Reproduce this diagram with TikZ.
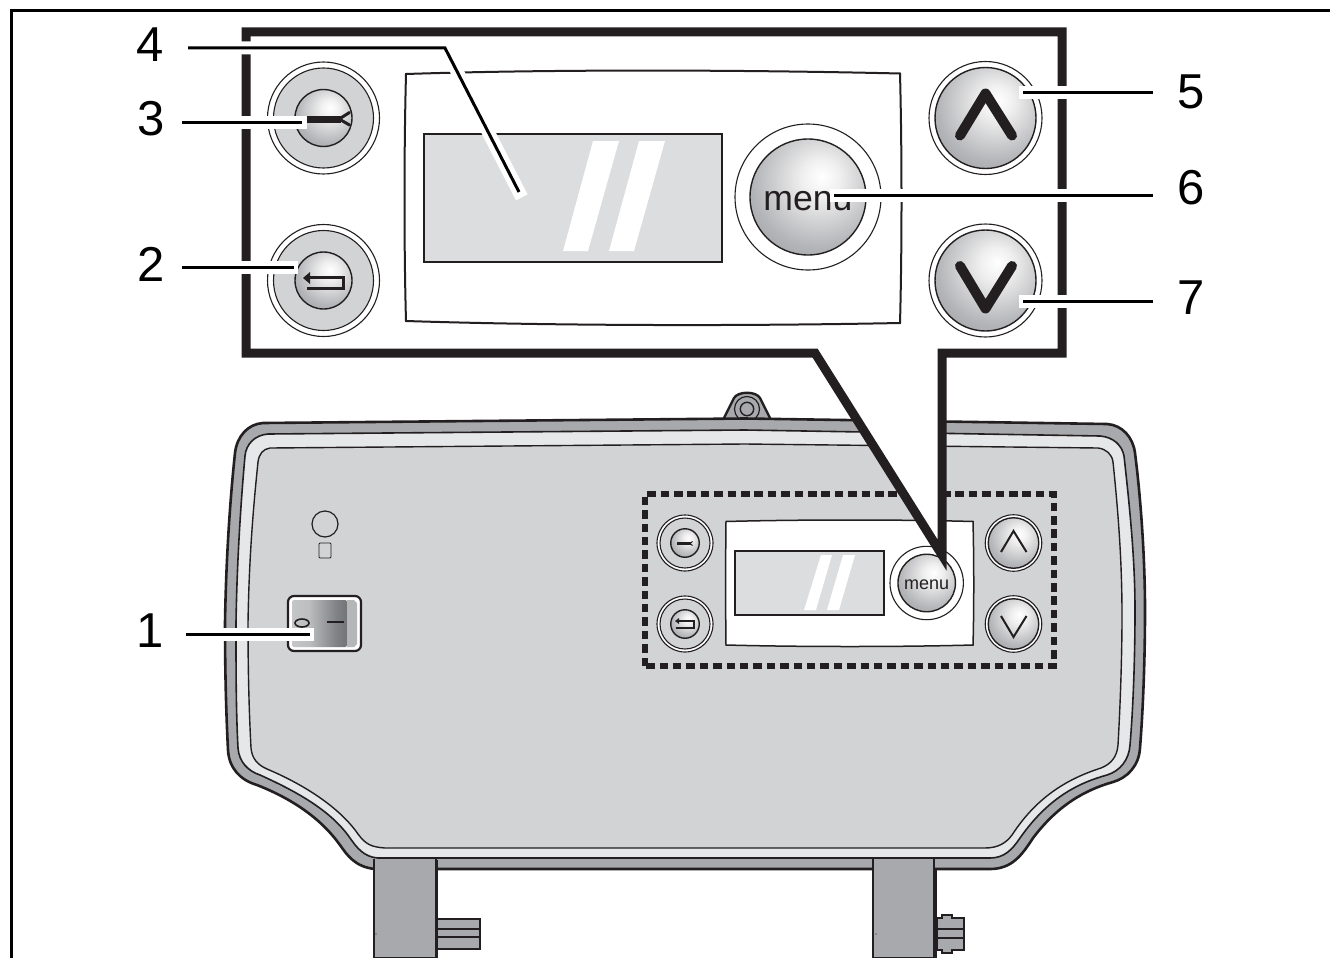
\documentclass[tikz,border=0pt]{standalone}
\usepackage{fontspec}
\setmainfont{Liberation Sans}
\usetikzlibrary{calc}
\definecolor{ink}{HTML}{231F20}
\definecolor{band}{HTML}{A7A9AC}
\definecolor{lite}{HTML}{E6E7E8}
\definecolor{panel}{HTML}{D1D3D4}
\definecolor{lcd}{HTML}{DCDDDE}
\definecolor{knobedge}{HTML}{808285}
\definecolor{knobmid}{HTML}{B4B5B8}
\pgfdeclareradialshading{knobshade}{\pgfpoint{6bp}{9bp}}{color(0bp)=(white); color(8bp)=(white!94!black); color(28bp)=(knobmid); color(55bp)=(knobedge); color(100bp)=(knobedge)}
\pgfdeclarehorizontalshading{switchshade}{100bp}{color(0bp)=(panel); color(40bp)=(panel!90!black); color(65bp)=(knobedge); color(100bp)=(black!68)}
\tikzset{
  num/.style={font=\fontsize{49}{49}\selectfont,text=black,inner sep=0pt,outer sep=0pt,minimum height=40pt},
  halo/.style={line width=13pt,draw=white},
  leader/.style={line width=3pt,draw=black},
  frameline/.style={line width=9pt,draw=ink,miter limit=10},
  ring/.style={draw=ink,line width=1.1pt},
  face/.style={circle,draw=ink,line width=1.4pt,inner sep=0pt,shading=knobshade},
  bigicon/.style={draw=ink,line width=10pt,line cap=round,line join=round},
  smallicon/.style={draw=ink,line width=2pt,line cap=round,line join=miter},
  panelline/.style={draw=ink,line width=2pt},
  legline/.style={draw=ink,line width=2.4pt,fill=band},
}
\newcommand{\btngray}[4]{% name, x,y, scale radii
  \draw[ring,fill=white] (#2,#3) circle[radius=#4*56];
  \draw[ring,fill=panel] (#2,#3) circle[radius=#4*50];
  \node[face,minimum size=#4*57pt] (#1) at (#2,#3) {};
}
\newcommand{\btnknob}[4]{%
  \draw[ring,fill=white] (#2,#3) circle[radius=#4*56.5];
  \node[face,minimum size=#4*101pt] (#1) at (#2,#3) {};
}
\begin{document}
\begin{tikzpicture}[x=1pt,y=-1pt]
\useasboundingbox (0,0) rectangle (1330,958);
\clip (0,0) rectangle (1330,958);
\fill[white] (0,0) rectangle (1330,958);
% outer frame
\draw[line width=3pt,black] (11,958) -- (11,10.5) -- (1330,10.5);

% knob at the top of the case
\draw[fill=band,draw=ink,line width=2.4pt,line join=round] (723,420) -- (734,398) .. controls (738,391) and (756,391) .. (760,398) -- (771,420);
\draw[ink,line width=1.2pt] (747,409) circle[radius=12.5];
\draw[ink,line width=1.4pt] (747,409) circle[radius=6.7];

% case: outer band, light band, panel
\path[fill=band,draw=ink,line width=2.6pt,line join=round]
  (263,423) -- (745,418.5) -- (1107,424) .. controls (1122,425) and (1133,437) .. (1135,453)
  .. controls (1141,500) and (1145,560) .. (1145,610) .. controls (1145,660) and (1143,710) .. (1140,748)
  .. controls (1139,766) and (1127,778) .. (1113,782) .. controls (1085,790) and (1058,805) .. (1033,838)
  .. controls (1022,855) and (1012,869) .. (990,869) -- (375,869)
  .. controls (355,867) and (347,855) .. (340,845) .. controls (322,820) and (295,800) .. (257,785)
  .. controls (240,780) and (229,768) .. (228,750) .. controls (226,710) and (225,670) .. (225,623)
  .. controls (226,560) and (230,500) .. (235,453) .. controls (237,436) and (248,424) .. (263,423) -- cycle;
\path[fill=lite,draw=ink,line width=1.6pt,line join=round]
  (268,434) -- (745,430) -- (1100,436) .. controls (1113,437) and (1122,445) .. (1124,456)
  .. controls (1130,510) and (1135,560) .. (1135,610) .. controls (1135,660) and (1133,710) .. (1130,745)
  .. controls (1129,760) and (1120,771) .. (1107,775) .. controls (1078,783) and (1048,798) .. (1020,838)
  .. controls (1012,850) and (1004,858) .. (990,858) -- (378,858)
  .. controls (364,857) and (357,848) .. (350,838) .. controls (332,812) and (300,793) .. (260,775)
  .. controls (248,771) and (239,762) .. (238,748) .. controls (236,710) and (236,670) .. (236,623)
  .. controls (237,560) and (241,500) .. (245,456) .. controls (246,444) and (255,435) .. (268,434) -- cycle;
\path[fill=panel,draw=ink,line width=1.4pt,line join=round]
  (270,448) -- (745,444) -- (1098,448) .. controls (1106,449) and (1112,454) .. (1113,462)
  .. controls (1118,510) and (1122,560) .. (1122,615) .. controls (1122,660) and (1120,710) .. (1118,745)
  .. controls (1117,757) and (1111,764) .. (1101,768) .. controls (1070,778) and (1038,795) .. (1012,835)
  .. controls (1006,843) and (998,848) .. (985,848) -- (385,848)
  .. controls (372,847) and (366,845) .. (358,834) .. controls (340,808) and (305,785) .. (267,769)
  .. controls (258,765) and (252,759) .. (251,748) .. controls (249,710) and (248,670) .. (248,623)
  .. controls (249,560) and (253,510) .. (258,462) .. controls (259,454) and (263,449) .. (270,448) -- cycle;

% legs
\path[legline] (374,859) -- (374,958) -- (436,958) -- (436,859);
\draw[ink,line width=2.2pt] (437,860) -- (437,958);
\path[fill=band,draw=ink,line width=2pt] (438,919) -- (480,919) -- (480,949) -- (438,949);
\draw[ink,line width=2pt] (438,929) -- (480,929) (438,937) -- (480,937);
\path[legline] (873,859) -- (873,958) -- (934,958) -- (934,859);
\draw[ink,line width=1.6pt] (936,870) -- (936,958);
\path[fill=band,draw=ink,line width=2pt] (942,918) -- (942,915) -- (952,915) -- (952,918) -- (964,918) -- (964,950) -- (952,950) -- (952,953) -- (942,953) -- (942,950) -- (937,950) -- (937,918) -- cycle;
\draw[ink,line width=2pt] (937,929) -- (964,929) (937,938) -- (964,938);
\fill[ink] (376,934) circle[radius=.6] (876,934) circle[radius=.6];

% indicator and switch
\draw[ink,line width=1.2pt] (325,524) circle[radius=13];
\draw[ink,line width=.9pt,rounded corners=1pt] (319,543) rectangle (331,558);
\draw[fill=white,draw=ink,line width=2.2pt,rounded corners=6pt] (288,596) rectangle (361,651);
\path[shading=switchshade,rounded corners=2pt] (292,600) -- (347,600) -- (347,647) -- (292,647) -- cycle;
\fill[band!85!white] (347,600) -- (354,600) -- (357,603) -- (357,644) -- (354,647) -- (347,647) -- cycle;
\draw[ink,line width=1.6pt] (302,623) ellipse[x radius=7,y radius=4];
\draw[ink,line width=2.8pt] (327,622) -- (344,622);

% small keypad
\draw[ink,line width=5.5pt,dash pattern=on 8.5pt off 4.9pt] (645,666) -- (645,494) -- (1054,494) -- (1054,666) -- cycle;
\btngray{sk3}{685}{543}{.5}
\btngray{sk2}{685}{624}{.5}
\btnknob{sk5}{1013.5}{543}{.5}
\btnknob{sk7}{1013.5}{624}{.5}
\draw[ink,line width=2.8pt] (677,543.5) -- (691,543.5);
\draw[ink,line width=1pt] (690,543.5) -- (692.5,541.5) (690,543.5) -- (692.5,545.5);
\draw[ink,line width=1.3pt] (678,621) -- (694,621) -- (694,628) -- (676,628);
\fill[ink] (675,621) -- (679,618) -- (679,624) -- cycle;
\draw[smallicon,line cap=butt,line join=miter] (1001,552) -- (1013.5,531) -- (1026.5,552);
\draw[smallicon,line cap=butt,line join=miter] (1001,616) -- (1013.5,637) -- (1026.5,616);
\path[fill=white,panelline,line width=1.5pt] (726,521.5) .. controls (800,519.5) and (900,519.5) .. (973,521.5) .. controls (974,560) and (974,610) .. (973,645) .. controls (900,647) and (800,647) .. (726,645) .. controls (725.5,610) and (725.5,560) .. (726,521.5) -- cycle;
\path[fill=lcd,panelline,line width=1.5pt] (735,551) rectangle (884,615);
\fill[white] (821,555) -- (832,555) -- (816,610) -- (804,610) -- cycle;
\fill[white] (843,555) -- (855,555) -- (839,610) -- (827,610) -- cycle;
\draw[ring,fill=white] (926.7,583) circle[radius=36.7];
\node[face,minimum size=57.5pt] (smenu) at (926.7,583) {};
\node[anchor=base,inner sep=0pt,text=ink,font=\fontsize{18}{18}\selectfont] (smenutxt) at (926.7,589) {menu};

% callout frame with its wedge down to the small menu key
\path[fill=white,frameline,line join=miter] (246,32) -- (1062,32) -- (1062,353) -- (942,353) -- (942,555) -- (815,353) -- (246,353) -- cycle;

% large keypad
\btngray{k3}{323.5}{118}{1}
\btngray{k2}{323.5}{280.5}{1}
\btnknob{k5}{985.5}{118}{1}
\btnknob{k7}{985.5}{280.5}{1}
\draw[ink,line width=7pt] (303,119) -- (341,119);
\draw[ink,line width=3pt,line cap=round] (340,118.5) -- (349.5,112.5) (340,119.5) -- (349.5,125);
\draw[ink,line width=3pt] (310,277) -- (343.5,277) -- (343.5,288) -- (307,288);
\fill[ink] (303,278) -- (310,272) -- (310,284) -- cycle;
\draw[bigicon] (960,135.5) -- (985.5,93.5) -- (1012,135.5);
\draw[bigicon] (960,266) -- (985.5,308.5) -- (1012,266);
\path[fill=white,panelline] (406,74) .. controls (560,69) and (750,70) .. (900,73.5) .. controls (902,150) and (902,250) .. (900,323) .. controls (750,326) and (560,326) .. (406,321) .. controls (404,250) and (404,150) .. (406,74) -- cycle;
\path[fill=lcd,panelline,line width=2.4pt] (424,134) rectangle (722,262);
\fill[white] (593,141) -- (619,141) -- (588,251) -- (563,251) -- cycle;
\fill[white] (639,141) -- (665,141) -- (634,251) -- (609,251) -- cycle;
\draw[ring,fill=white] (808,197) circle[radius=73];
\node[face,minimum size=116pt] (kmenu) at (808,197) {};
\node[anchor=base,inner sep=0pt,text=ink,font=\fontsize{35.6}{36}\selectfont] (kmenutxt) at (808,210) {menu};

% number labels
\node[num,minimum width=76pt] (n4) at (150,45) {4};
\node[num,minimum width=62pt] (n3) at (151,119) {3};
\node[num,minimum width=62pt] (n2) at (151,264) {2};
\node[num,minimum width=72pt] (n1) at (150,631) {1};
\node[num,minimum width=76pt] (n5) at (1191,92) {5};
\node[num,minimum width=76pt] (n6) at (1191,188) {6};
\node[num,minimum width=76pt] (n7) at (1191,298) {7};

% leader ends
\coordinate (e4b) at (445,48);
\coordinate (e4) at (519,192);
\coordinate (e3) at (302,122);
\coordinate (e2) at (294,267);
\coordinate (e1) at (310,634);
\coordinate (e5) at (1023,92);
\coordinate (e6) at (834,195);
\coordinate (e7) at (1023,301);

% leader halos
\draw[halo,shorten >=-6pt] ([xshift=6pt]n4.east |- e4b) -- (e4b) -- (e4);
\draw[halo] ([xshift=6pt]n3.east |- e3) -- ([xshift=5pt]e3);
\draw[halo] ([xshift=6pt]n2.east |- e2) -- ([xshift=4pt]e2);
\draw[halo] ([xshift=6pt]n1.east |- e1) -- ([xshift=4pt]e1);
\draw[halo] ([xshift=-6pt]n5.west |- e5) -- ([xshift=-4pt]e5);
\draw[halo] ([xshift=-6pt]n6.west |- e6) -- ([xshift=-4pt]e6);
\draw[halo] ([xshift=-6pt]n7.west |- e7) -- ([xshift=-4pt]e7);
% leaders
\draw[leader,line join=miter] (n4.east |- e4b) -- (e4b) -- (e4);
\draw[leader] (n3.east |- e3) -- (e3);
\draw[leader] (n2.east |- e2) -- (e2);
\draw[leader] (n1.east |- e1) -- (e1);
\draw[leader] (n5.west |- e5) -- (e5);
\draw[leader] (n6.west |- e6) -- (e6);
\draw[leader] (n7.west |- e7) -- (e7);
\end{tikzpicture}
\end{document}
